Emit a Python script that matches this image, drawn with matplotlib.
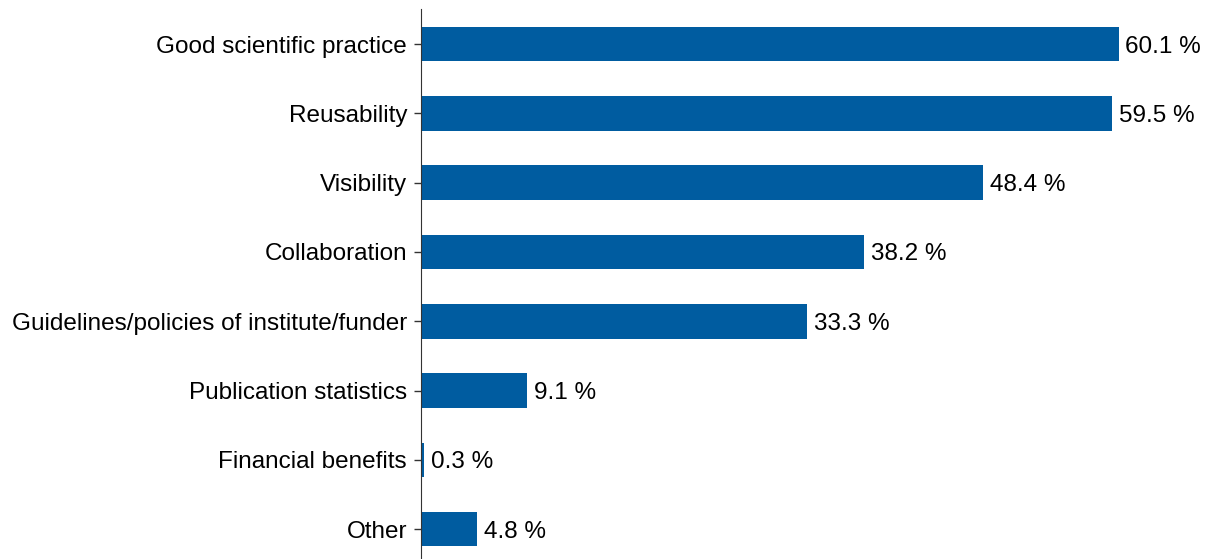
import matplotlib.pyplot as plt

plt.rcParams["font.family"] = ["Liberation Sans", "DejaVu Sans"]

categories = [
    "Good scientific practice",
    "Reusability",
    "Visibility",
    "Collaboration",
    "Guidelines/policies of institute/funder",
    "Publication statistics",
    "Financial benefits",
    "Other",
]
shares = [60.1, 59.5, 48.4, 38.2, 33.3, 9.1, 0.3, 4.8]

fig = plt.figure(figsize=(12.12, 5.59), dpi=100)
ax = fig.add_axes([421 / 1212, -4.8 / 559, 766 / 1212, 554.4 / 559])

ypos = list(range(len(categories)))
ax.barh(ypos, shares, height=0.5, color="#005ca0")
ax.set_ylim(len(categories) - 0.5, -0.5)
ax.set_xlim(0, 66)

ax.set_yticks(ypos)
ax.set_yticklabels(categories, fontsize=17.5)
ax.tick_params(axis="y", length=5, width=1, color="#333333", pad=5)
ax.set_xticks([])

for s in ["top", "right", "bottom"]:
    ax.spines[s].set_visible(False)
ax.spines["left"].set_color("#333333")

for y, v in zip(ypos, shares):
    ax.annotate(f"{v} %", xy=(v, y), xytext=(5, 0), textcoords="offset points",
                va="center_baseline", ha="left", fontsize=17.5)

fig.savefig("out.png", dpi=100)
